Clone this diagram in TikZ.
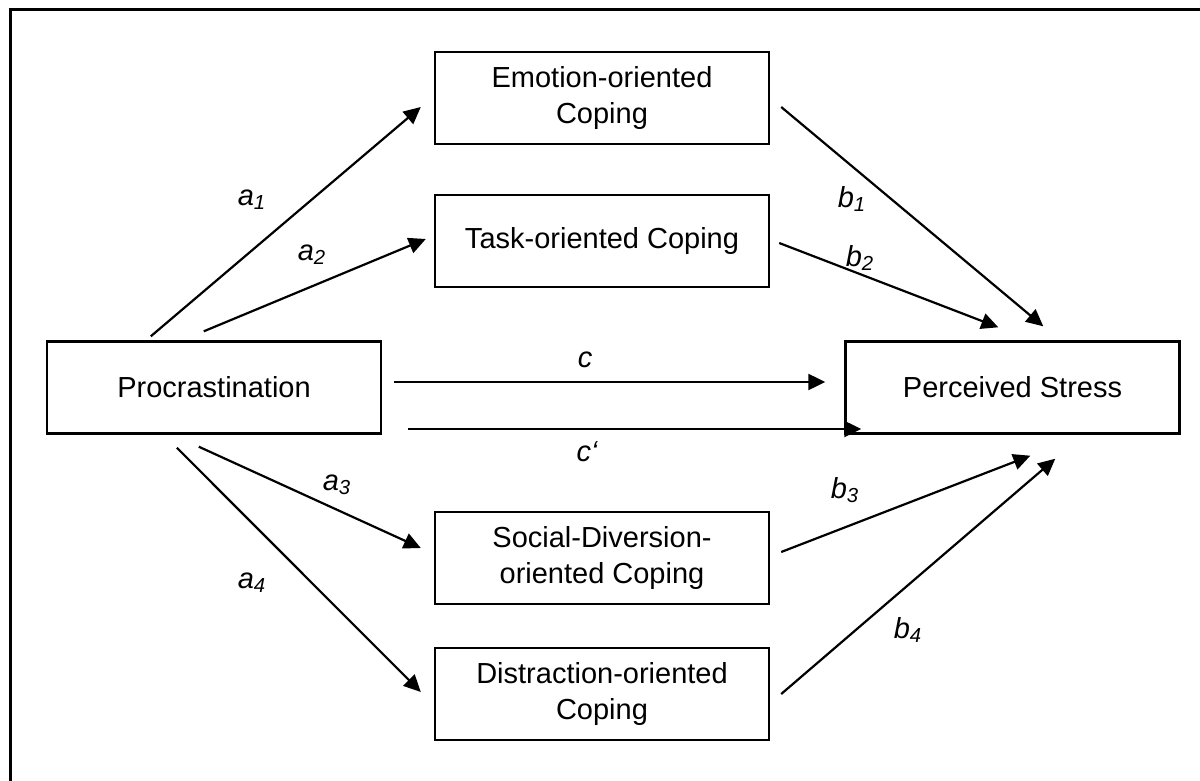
\documentclass[tikz,border=0pt]{standalone}
\usepackage{fontspec}
\setmainfont{Liberation Sans}
\usetikzlibrary{arrows.meta,calc}

\begin{document}
\begin{tikzpicture}[x=0.5pt,y=-0.5pt,
		box/.style={draw,line width=1.2pt,minimum width=167pt,minimum height=46pt,inner sep=0pt,align=center,font=\fontsize{14.5}{18}\selectfont},
		effect/.style={-{Triangle[length=8.5pt,width=8pt]},line width=1.1pt},
		coef/.style={font=\fontsize{14.5}{18}\selectfont\itshape}]
		\useasboundingbox (0,0) rectangle (1200,781);
		
		% Frame
		\draw[line width=1.5pt] (10,781) -- (10,10) -- (1200,10);
		
		% Boxes
		\node[box] (proc) at (214,387.5) {Procrastination};
		\node[box] (stress) at (1012.5,387.5) {Perceived Stress};
		\node[box] (emo) at (602,98) {Emotion-oriented\\Coping};
		\node[box] (task) at (602,241) {Task-oriented Coping};
		\node[box] (social) at (602,558) {Social-Diversion-\\oriented Coping};
		\node[box] (distr) at (602,694) {Distraction-oriented\\Coping};
		
		% Paths a
		\draw[effect] ($(proc.north west)+(105,-4)$) -- ($(emo.west)+(-13,9)$);
		\draw[effect] ($(proc.north west)+(158,-9)$) -- ($(task.west)+(-8,-2)$);
		\draw[effect] ($(proc.south west)+(153,12)$) -- ($(social.west)+(-13,-10)$);
		\draw[effect] ($(proc.south west)+(131,13)$) -- ($(distr.west)+(-13,-2)$);
		
		% Paths b
		\draw[effect] ($(emo.east)+(11,9)$) -- ($(stress.north west)+(199,-14)$);
		\draw[effect] ($(task.east)+(9,2)$) -- ($(stress.north west)+(154,-13)$);
		\draw[effect] ($(social.east)+(11,-6)$) -- ($(stress.south west)+(186,21)$);
		\draw[effect] ($(distr.east)+(11,0)$) -- ($(stress.south west)+(211,24)$);
		
		% Paths c
		\draw[effect] ($(proc.east)+(12,-5.5)$) -- ($(stress.west)+(-19,-5.5)$);
		\draw[effect] ($(proc.east)+(26,41.5)$) -- ($(stress.west)+(17,41.5)$);
		
		% Labels
		\node[coef] (la1) at (252,200) {a\textsubscript{1}};
		\node[coef] (la2) at (312,255) {a\textsubscript{2}};
		\node[coef] (la3) at (337,485) {a\textsubscript{3}};
		\node[coef] (la4) at (252,583) {a\textsubscript{4}};
		\node[coef] (lb1) at (852,199) {b\textsubscript{1}};
		\node[coef] (lb2) at (860,258) {b\textsubscript{2}};
		\node[coef] (lb3) at (845,490) {b\textsubscript{3}};
		\node[coef] (lb4) at (908,630) {b\textsubscript{4}};
		\node[coef] (lc) at (585,360) {c};
		\node[coef] (lcp) at (587,452) {c‘};
\end{tikzpicture}
\end{document}
